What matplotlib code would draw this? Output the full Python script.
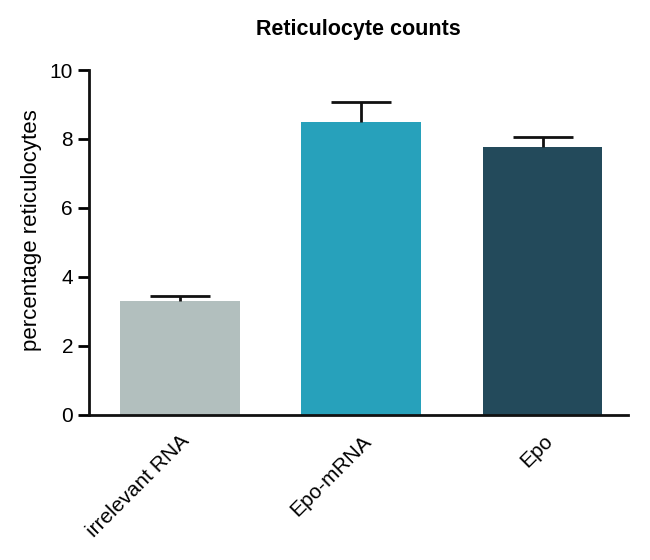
import numpy as np
import matplotlib.pyplot as plt

plt.rcParams['font.family'] = ['Liberation Sans', 'DejaVu Sans']

# data
groups = ['irrelevant RNA', 'Epo-mRNA', 'Epo']
means = [3.31, 8.48, 7.77]
errs = [0.15, 0.58, 0.30]
colors = ['#b2bfbe', '#27a1bb', '#234a5b']
yticks = [0, 2, 4, 6, 8, 10]

fig = plt.figure(figsize=(6.5, 5.6), dpi=100)
ax = fig.add_axes([0.137, 0.259, 0.829, 0.616])

x = np.arange(len(groups))
ax.bar(x, means, width=0.66, color=colors, zorder=2)
# upper error bars only (no cap at the bar top)
tops = np.array(means) + np.array(errs)
ax.vlines(x, means, tops, color='#111111', linewidth=2, zorder=3)
ax.hlines(tops, x - 0.165, x + 0.165, color='#111111', linewidth=2, zorder=3)

ax.set_xlim(-0.5, 2.47)
ax.set_ylim(0, 10)
ax.set_yticks(yticks)
ax.set_xticks(x)
ax.set_xticklabels(groups, rotation=45, ha='right', rotation_mode='anchor', fontsize=15)
ax.tick_params(axis='y', labelsize=15, width=2, length=8, direction='out')
ax.tick_params(axis='x', length=0, pad=12)
ax.set_ylabel('percentage reticulocytes', fontsize=16)
ax.yaxis.set_label_coords(-0.087, 0.535)
ax.set_title('Reticulocyte counts', fontsize=15.5, fontweight='bold', pad=25)

for s in ['top', 'right']:
    ax.spines[s].set_visible(False)
for s in ['left', 'bottom']:
    ax.spines[s].set_linewidth(2)
    ax.spines[s].set_color('#111111')

fig.savefig('out.png', dpi=100)
plt.close()
